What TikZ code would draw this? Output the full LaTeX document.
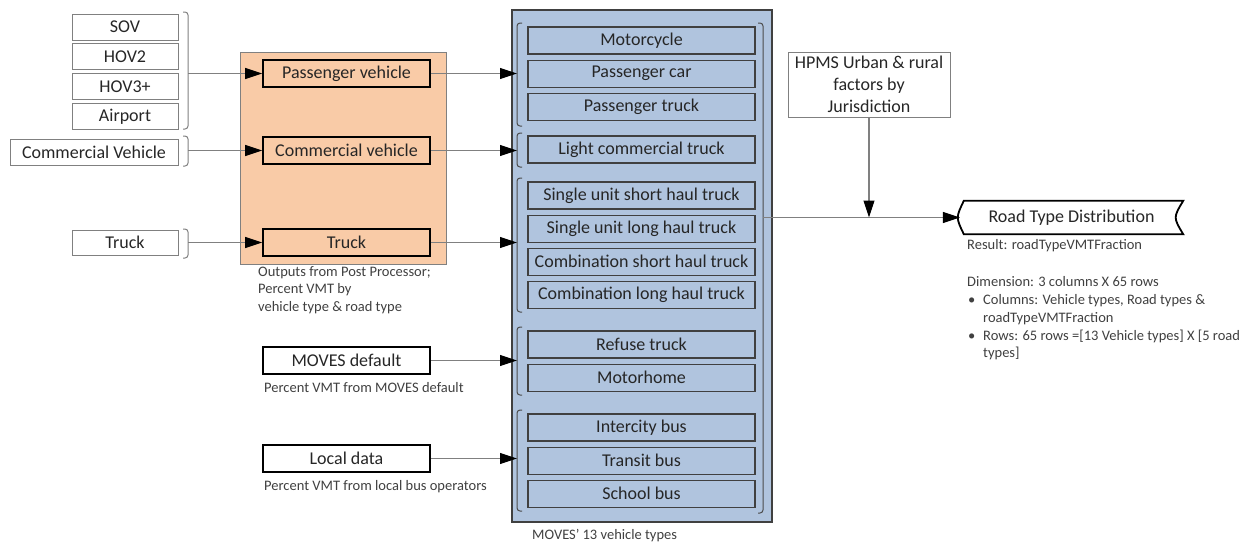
\documentclass[tikz,border=0pt]{standalone}
\usepackage{fontspec}
\setmainfont{Carlito}
\usetikzlibrary{positioning,arrows.meta}

\definecolor{ppfill}{HTML}{F9CBA7}
\definecolor{mvfill}{HTML}{B0C4DE}
\definecolor{notegray}{HTML}{404040}

\begin{document}
\begin{tikzpicture}[
		x=1pt, y=-1pt,
		node distance=5pt,
		every node/.style = {font=\fontsize{18}{22}\selectfont, inner sep=0pt, text=black!85},
		src/.style = {draw=gray, line width=0.8pt, minimum width=106pt, minimum height=26pt},
		pp/.style = {draw=black, line width=1.8pt, fill=ppfill, minimum width=167pt, minimum height=27pt},
		vt/.style = {draw=black!75, line width=1.1pt, fill=mvfill, minimum width=227pt, minimum height=27pt},
		ext/.style = {draw=black, line width=1.8pt, minimum width=167pt, minimum height=27pt},
		note/.style = {font=\fontsize{14.5}{17.8}\selectfont, text=notegray, align=left, anchor=north west},
		brk/.style = {draw=gray, line width=1pt, rounded corners=3pt},
		brkv/.style = {draw=black!70, line width=1pt, rounded corners=3pt},
		arr/.style = {draw=gray, line width=1.1pt, -{Triangle[length=17pt,width=11pt,color=black]}}
	]
	\useasboundingbox (0,0) rectangle (1250,544);
	% Big boxes.
	\node[draw=gray, line width=0.8pt, fill=ppfill, minimum width=206pt, minimum height=212pt] (post) at (343,158) {};
	\node[draw=black!75, line width=1.1pt, fill=mvfill, minimum width=260pt, minimum height=512pt] (moves) at (642,266) {};
	
	% Sources.
	\node[src] (sov) at (125,27) {SOV};
	\node[src, below=3pt of sov] (hov2) {HOV2};
	\node[src, below=3pt of hov2] (hov3) {HOV3+};
	\node[src, below=3pt of hov3] (airport) {Airport};
	\node[src, minimum width=168pt] (cv) at (94,152) {Commercial Vehicle};
	\node[src, minimum height=25pt] (trk) at (125,242.5) {Truck};
	\draw[brk] (183,12) -- (188,12) -- (188,129) -- (183,129);
	\draw[brk] (183,136) -- (188,136) -- (188,166) -- (183,166);
	\draw[brk] (183,229) -- (188,229) -- (188,258) -- (183,258);
	\coordinate (bpv) at (188,73.5);
	\coordinate (bcv) at (188,150.5);
	\coordinate (btr) at (188,242.5);
	
	% Post processor outputs.
	\node[pp] (pv) at (346.5,73.5) {Passenger vehicle};
	\node[pp] (cvh) at (346.5,150.5) {Commercial vehicle};
	\node[pp] (trh) at (346.5,242.5) {Truck};
	\node[note] (ppnote) at (258,266) {Outputs from Post Processor;\\Percent VMT by\\vehicle type \& road type};
	
	% Other inputs.
	\node[ext] (mdef) at (346.5,360.5) {MOVES default};
	\node[note] (defnote) at (264,382) {Percent VMT from MOVES default};
	\node[ext] (local) at (346.5,458.5) {Local data};
	\node[note] (locnote) at (264,480) {Percent VMT from local bus operators};
	
	% MOVES vehicle types.
	\node[vt] (moto) at (641.5,40.5) {Motorcycle};
	\node[vt, below=of moto] (car) {Passenger car};
	\node[vt, below=of car] (ptruck) {Passenger truck};
	\node[vt] (lct) at (641.5,149.5) {Light commercial truck};
	\node[vt] (sush) at (641.5,195.5) {Single unit short haul truck};
	\node[vt, below=of sush] (sulh) {Single unit long haul truck};
	\node[vt, below=of sulh] (cosh) {Combination short haul truck};
	\node[vt, below=of cosh] (colh) {Combination long haul truck};
	\node[vt] (refuse) at (641.5,344.5) {Refuse truck};
	\node[vt, below=of refuse] (mhome) {Motorhome};
	\node[vt] (icbus) at (641.5,427.5) {Intercity bus};
	\node[vt, below=of icbus] (tbus) {Transit bus};
	\node[vt, below=of tbus] (sbus) {School bus};
	\node[note] (mvnote) at (532,529) {MOVES’ 13 vehicle types};
	\draw[brkv] (522,23) -- (517,23) -- (517,126) -- (522,126);
	\draw[brkv] (522,133) -- (517,133) -- (517,167) -- (522,167);
	\draw[brkv] (522,178) -- (517,178) -- (517,312) -- (522,312);
	\draw[brkv] (522,327) -- (517,327) -- (517,395) -- (522,395);
	\draw[brkv] (522,410) -- (517,410) -- (517,511) -- (522,511);
	\draw[brkv] (758,23) -- (763,23) -- (763,513) -- (758,513);
	\coordinate (g1) at (517,73.5);
	\coordinate (g2) at (517,150.5);
	\coordinate (g3) at (517,242.5);
	\coordinate (g4) at (517,360.5);
	\coordinate (g5) at (517,458.5);
	\coordinate (gout) at (763,217.5);
	
	% Result.
	\node[draw=gray, line width=0.8pt, minimum width=162pt, minimum height=65pt, align=center] (hpms) at (869,84.5) {HPMS Urban \& rural\\factors by\\Jurisdiction};
	\node[minimum width=223pt, minimum height=33pt] (rtd) at (1071.5,217.5) {Road Type Distribution};
	\draw[line width=1.8pt] ([xshift=4pt]rtd.north west) -- (rtd.north east)
		.. controls ([xshift=-10pt]rtd.east) .. (rtd.south east)
		-- ([xshift=4pt]rtd.south west)
		.. controls ([xshift=-4pt]rtd.west) .. cycle;
	\node[note] (resnote) at (967,239) {Result: roadTypeVMTFraction};
	\node[note] (dimnote) at (967,274) {\begin{tabular}{@{}l@{}l@{}}
		\multicolumn{2}{@{}l@{}}{Dimension: 3 columns X 65 rows}\\
		\makebox[16pt][l]{\hspace{1pt}\textbullet} & Columns: Vehicle types, Road types \&\\
		& roadTypeVMTFraction\\
		\makebox[16pt][l]{\hspace{1pt}\textbullet} & Rows: 65 rows =[13 Vehicle types] X [5 road\\
		& types]
	\end{tabular}};
	
	\draw[arr] (bpv) to (pv);
	\draw[arr] (bcv) to (cvh);
	\draw[arr] (btr) to (trh);
	\draw[arr] (pv) to (g1);
	\draw[arr] (cvh) to (g2);
	\draw[arr] (trh) to (g3);
	\draw[arr] (mdef) to (g4);
	\draw[arr] (local) to (g5);
	\draw[arr] (gout) to (rtd);
	\draw[arr] (hpms) to (hpms |- gout);
\end{tikzpicture}
\end{document}
